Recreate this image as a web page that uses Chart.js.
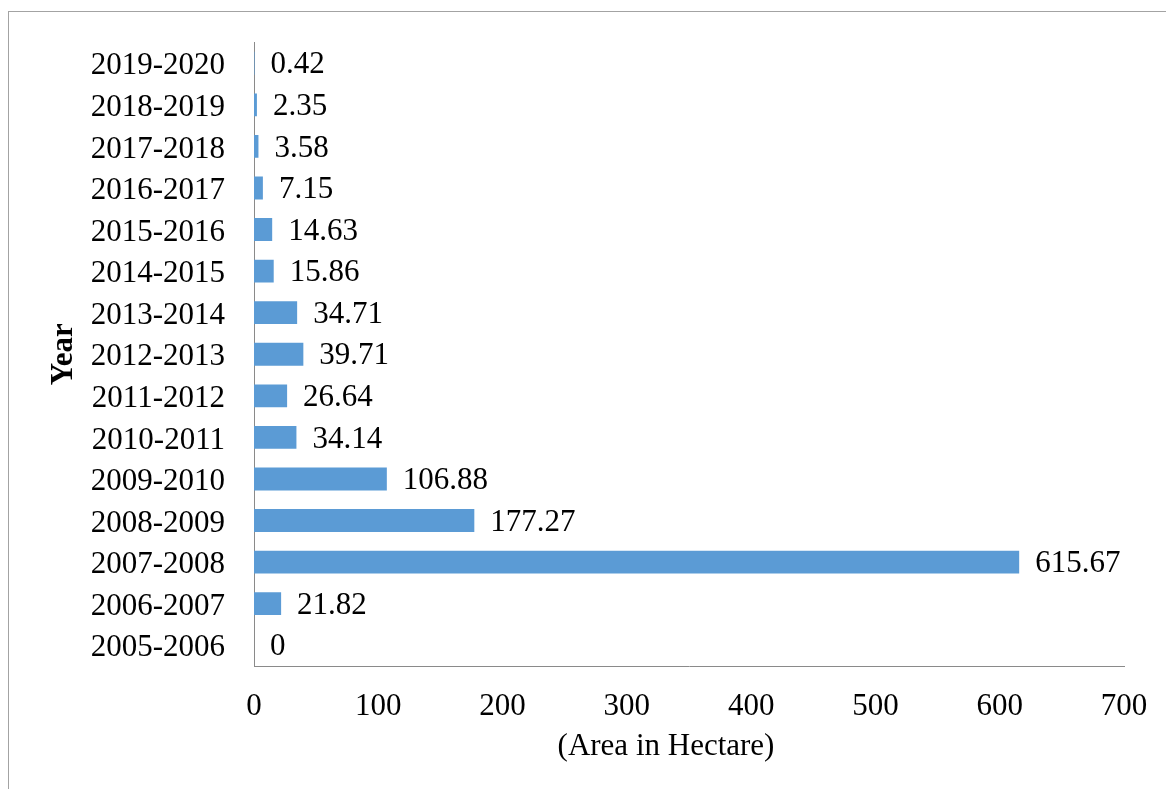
<!DOCTYPE html>
<html lang="en">

<head>
    <meta charset="UTF-8">
    <meta name="viewport" content="width=device-width, initial-scale=1.0">
    <title>Area in Hectare by Year</title>
    <style>
        html, body { margin: 0; padding: 0; background: #fff; overflow: hidden; }
        .frame {
            position: absolute; left: 8px; top: 11px; width: 2000px; height: 2000px;
            border-left: 1.5px solid #a3a3a3; border-top: 1.5px solid #a3a3a3;
        }
        #areaChart { position: absolute; left: 0; top: 0; }
    </style>
</head>

<body>
    <div class="frame"></div>
    <canvas id="areaChart" width="1166" height="789"></canvas>
    <script src="https://cdn.jsdelivr.net/npm/chart.js"></script>
    <script>
        // Anos (ordem cronológica) e área em hectares
        const years = ['2005-2006', '2006-2007', '2007-2008', '2008-2009', '2009-2010', '2010-2011', '2011-2012',
            '2012-2013', '2013-2014', '2014-2015', '2015-2016', '2016-2017', '2017-2018', '2018-2019', '2019-2020'];
        const areaHectare = [0, 21.82, 615.67, 177.27, 106.88, 34.14, 26.64, 39.71, 34.71, 15.86, 14.63, 7.15, 3.58, 2.35, 0.42];
        const xTicks = [0, 100, 200, 300, 400, 500, 600, 700];
        const xTitle = '(Area in Hectare)';

        const serif = 'Liberation Serif, Times New Roman, serif';

        // Escreve o valor ao lado de cada barra e o título do eixo X
        const valueLabels = {
            id: 'valueLabels',
            afterDatasetsDraw(chart) {
                const ctx = chart.ctx;
                const meta = chart.getDatasetMeta(0);
                ctx.save();
                ctx.font = '31px ' + serif;
                ctx.fillStyle = '#000';
                ctx.textAlign = 'left';
                ctx.textBaseline = 'middle';
                meta.data.forEach((bar, i) => {
                    ctx.fillText(String(areaHectare[i]), bar.x + 16, bar.y + 2);
                });
                // título do eixo X um pouco à esquerda do centro
                ctx.textAlign = 'center';
                ctx.fillText(xTitle, chart.chartArea.left + 412, chart.chartArea.bottom + 81);
                ctx.restore();
            }
        };

        const ctx = document.getElementById('areaChart').getContext('2d');
        const areaChart = new Chart(ctx, {
            type: 'bar',
            data: {
                labels: years,
                datasets: [{
                    label: 'Area in Hectare',
                    data: areaHectare,
                    backgroundColor: '#5b9bd5',
                    barPercentage: 0.55,
                    categoryPercentage: 1
                }]
            },
            options: {
                indexAxis: 'y',
                responsive: false,
                animation: false,
                layout: { padding: { top: 42.5, right: 42, left: 0, bottom: 0 } },
                plugins: {
                    legend: { display: false },
                    tooltip: { enabled: false }
                },
                scales: {
                    x: {
                        min: 0,
                        max: 700,
                        afterBuildTicks: (scale) => { scale.ticks = xTicks.map(v => ({ value: v })); },
                        afterFit: (scale) => {
                            scale.height = 123;
                            scale.paddingLeft = 0;
                            scale.paddingRight = 0;
                        },
                        grid: { display: false, drawTicks: false },
                        border: { display: true, color: '#8a8a8a', width: 1 },
                        ticks: { color: '#000', font: { family: serif, size: 31 }, padding: 22, maxRotation: 0 }
                    },
                    y: {
                        reverse: true,
                        afterFit: (scale) => {
                            scale.width = 254;
                            scale.paddingTop = 0;
                            scale.paddingBottom = 0;
                        },
                        grid: { display: false, drawTicks: false },
                        border: { display: true, color: '#8a8a8a', width: 1 },
                        ticks: { color: '#000', font: { family: serif, size: 31 }, padding: 29, labelOffset: 3 },
                        title: {
                            display: true,
                            text: 'Year',
                            color: '#000',
                            font: { family: serif, size: 31, weight: 'bold' },
                            padding: { top: 45, bottom: 0 }
                        }
                    }
                }
            },
            plugins: [valueLabels]
        });
    </script>
</body>

</html>
